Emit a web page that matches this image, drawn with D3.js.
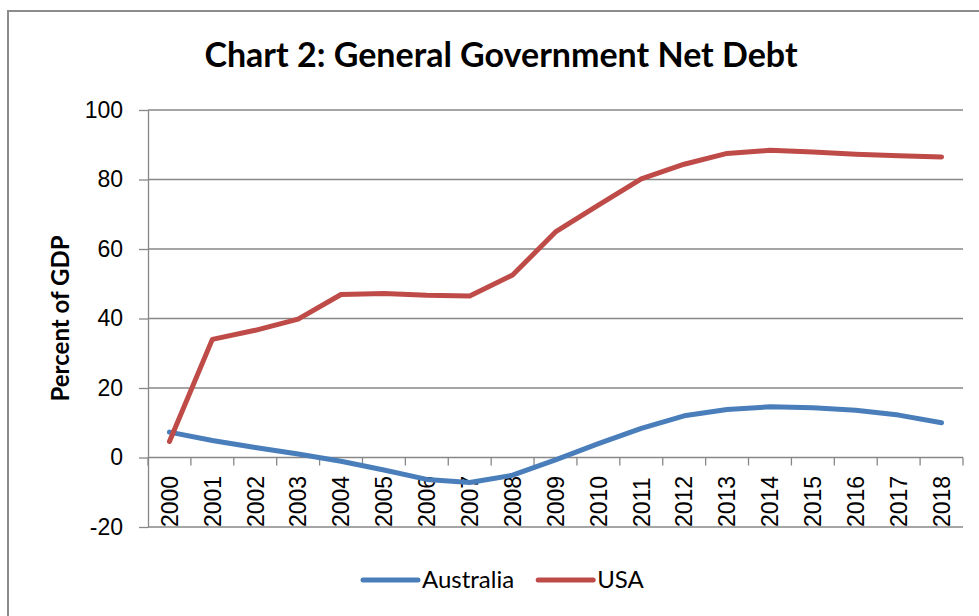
<!DOCTYPE html>
<html>
<head>
  <meta charset="utf-8">
  <title>Chart 2: General Government Net Debt</title>
  <script src="https://d3js.org/d3.v7.min.js"></script>
  <style>
    body { margin: 0; background: #fff; }
    svg { display: block; }
  </style>
</head>
<body>
<svg id="chart" width="979" height="616"></svg>
<script>
  // values, percent of GDP
  var years = ["2000", "2001", "2002", "2003", "2004", "2005", "2006", "2007", "2008", "2009",
    "2010", "2011", "2012", "2013", "2014", "2015", "2016", "2017", "2018"];
  var australia = [7.3, 4.9, 2.9, 1.0, -1.1, -3.6, -6.3, -7.2, -5.1, -0.7,
    4.0, 8.4, 12.0, 13.8, 14.6, 14.3, 13.6, 12.2, 10.0];
  var usa = [4.6, 34.0, 36.6, 39.8, 46.9, 47.2, 46.7, 46.5, 52.5, 64.9,
    72.6, 80.2, 84.4, 87.5, 88.4, 87.9, 87.3, 86.8, 86.5];
  var yTicks = [-20, 0, 20, 40, 60, 80, 100];
  var seriesNames = ["Australia", "USA"];
  var seriesColors = ["#4a7ebb", "#be4b48"];

  var svg = d3.select("#chart");
  var gridColor = "#878787";
  var labelFont = "'Liberation Sans', Arial, sans-serif";
  var titleFont = "Lato, 'Open Sans', sans-serif";

  // outer frame (runs off the right and bottom edges)
  svg.append("rect")
    .attr("x", 8).attr("y", 11)
    .attr("width", 990).attr("height", 620)
    .attr("fill", "none")
    .attr("stroke", "#8c8c8c")
    .attr("stroke-width", 2);

  var x = d3.scaleBand().domain(years).range([148, 963]);
  var y = d3.scaleLinear().domain([-20, 100]).range([527, 110]);

  // horizontal gridlines
  svg.append("g").selectAll("line")
    .data(yTicks.filter(function(d) { return d !== 0; }))
    .join("line")
    .attr("x1", 148).attr("x2", 963)
    .attr("y1", function(d) { return y(d); })
    .attr("y2", function(d) { return y(d); })
    .attr("stroke", gridColor)
    .attr("stroke-width", 1.3);

  // y axis, plain hyphen for negatives like the original
  var yAxis = svg.append("g")
    .attr("transform", "translate(148,0)")
    .call(d3.axisLeft(y).tickValues(yTicks).tickSize(9).tickPadding(16).tickSizeOuter(0)
      .tickFormat(function(d) { return String(d); }));
  yAxis.select(".domain").attr("stroke", gridColor).attr("stroke-width", 1.3);
  yAxis.selectAll(".tick line").attr("stroke", gridColor).attr("stroke-width", 1.3);
  yAxis.selectAll("text")
    .attr("fill", "#000")
    .style("font-family", labelFont)
    .style("font-size", "23px");

  // x axis sits on zero, tick marks between the years
  var zeroY = y(0);
  var xAxis = svg.append("g").attr("transform", "translate(0," + zeroY + ")");
  xAxis.append("line")
    .attr("x1", 148).attr("x2", 963)
    .attr("stroke", gridColor).attr("stroke-width", 1.3);
  var edges = years.map(function(d) { return x(d); }).concat([x.range()[1]]);
  xAxis.selectAll(".edge")
    .data(edges)
    .join("line")
    .attr("class", "edge")
    .attr("x1", function(d) { return d; }).attr("x2", function(d) { return d; })
    .attr("y1", 0).attr("y2", 8)
    .attr("stroke", gridColor).attr("stroke-width", 1.3);

  svg.append("g").selectAll("text")
    .data(years)
    .join("text")
    .attr("transform", function(d) {
      return "translate(" + (x(d) + x.bandwidth() / 2) + "," + y(-20) + ") rotate(-90)";
    })
    .attr("dy", "0.36em")
    .attr("text-anchor", "start")
    .style("font-family", labelFont)
    .style("font-size", "23px")
    .text(function(d) { return d; });

  // lines
  var line = d3.line()
    .x(function(d, i) { return x(years[i]) + x.bandwidth() / 2; })
    .y(function(d) { return y(d); });

  [australia, usa].forEach(function(vals, i) {
    svg.append("path")
      .datum(vals)
      .attr("d", line)
      .attr("fill", "none")
      .attr("stroke", seriesColors[i])
      .attr("stroke-width", 5)
      .attr("stroke-linejoin", "round")
      .attr("stroke-linecap", "round");
  });

  // title
  svg.append("text")
    .attr("x", 501).attr("y", 67)
    .attr("text-anchor", "middle")
    .style("font-family", titleFont)
    .style("font-weight", "bold")
    .style("font-size", "34px")
    .text("Chart 2: General Government Net Debt");

  // y axis title
  svg.append("text")
    .attr("transform", "translate(69," + (y(40)) + ") rotate(-90)")
    .attr("text-anchor", "middle")
    .style("font-family", titleFont)
    .style("font-weight", "bold")
    .style("font-size", "24px")
    .text("Percent of GDP");

  // legend
  var legend = svg.append("g").attr("transform", "translate(0,580)");
  var lx = 363;
  seriesNames.forEach(function(name, i) {
    legend.append("line")
      .attr("x1", lx).attr("x2", lx + 55)
      .attr("stroke", seriesColors[i])
      .attr("stroke-width", 5)
      .attr("stroke-linecap", "round");
    var t = legend.append("text")
      .attr("x", lx + 59).attr("y", 0)
      .attr("dy", "0.35em")
      .style("font-family", titleFont)
      .style("font-size", "24px")
      .text(name);
    lx += 59 + t.node().getComputedTextLength() + 24;
  });
</script>
</body>
</html>
